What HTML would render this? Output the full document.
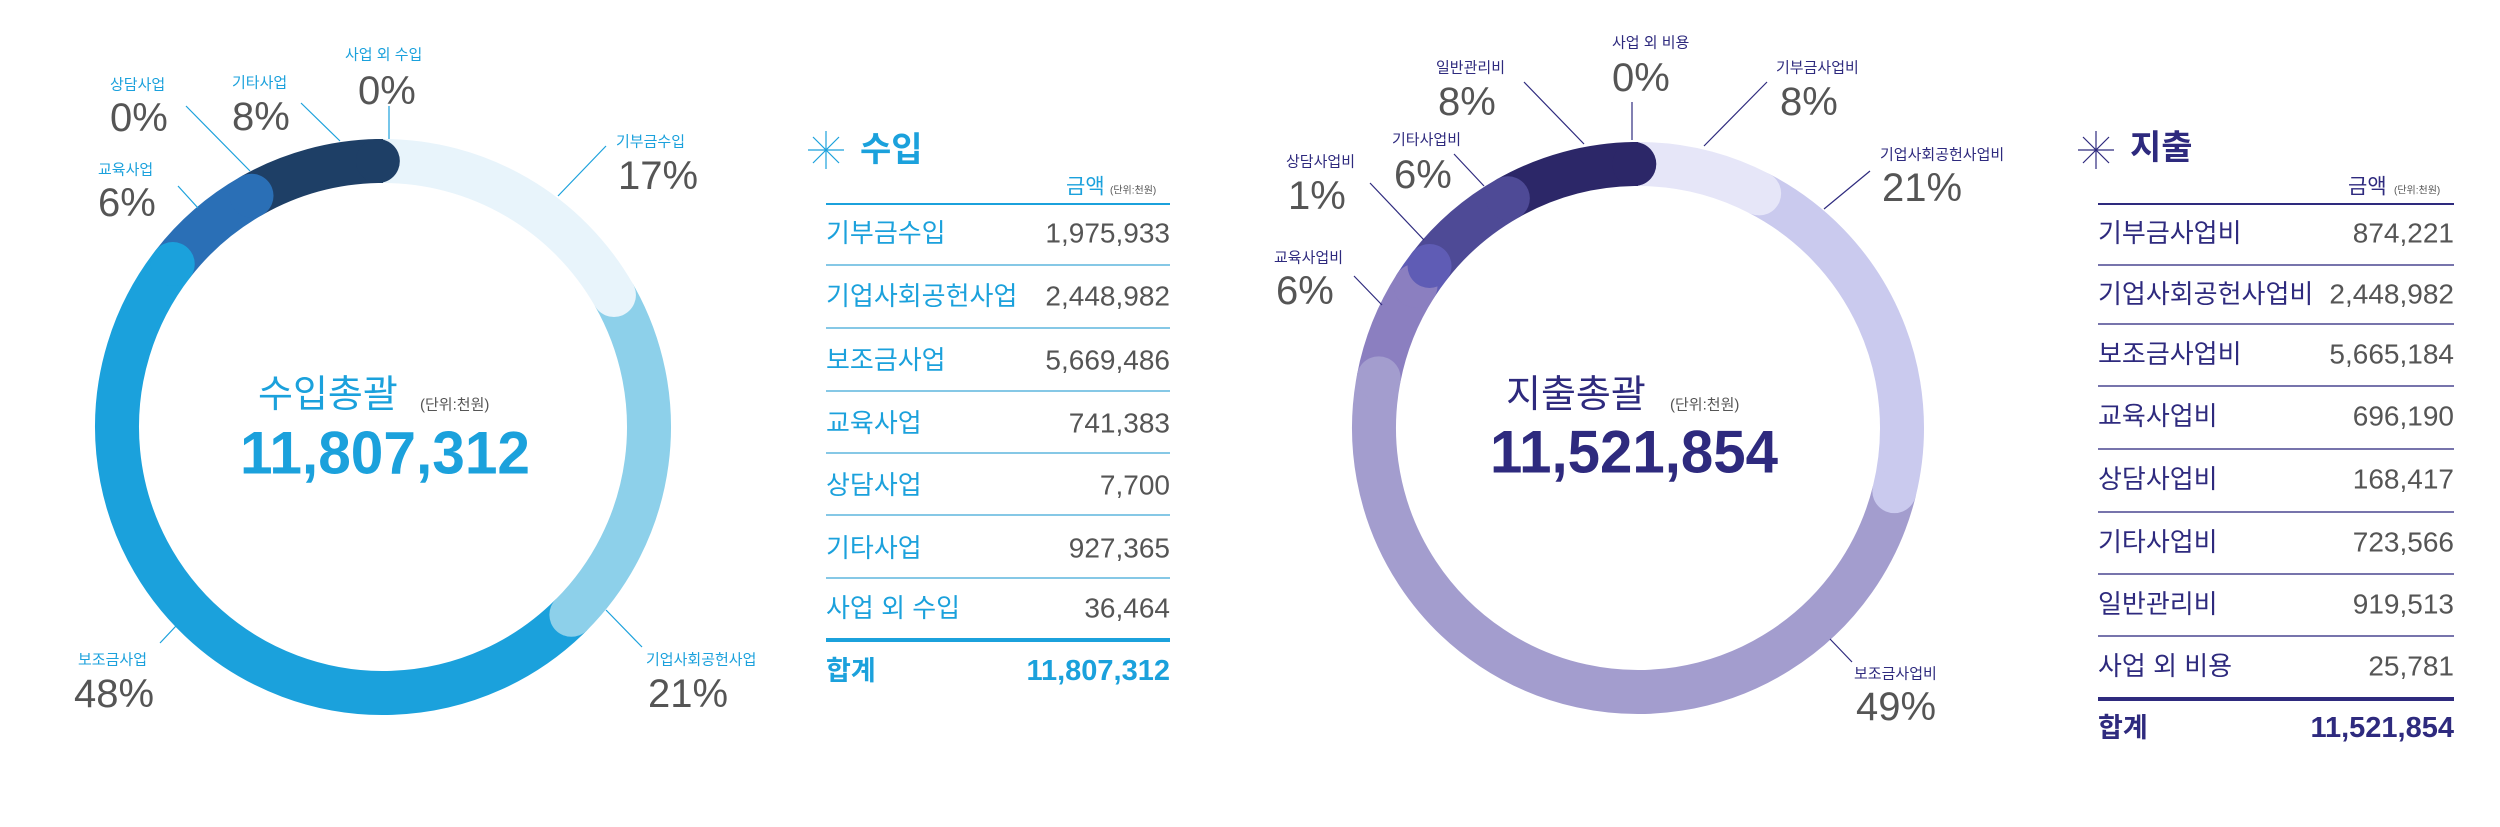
<!DOCTYPE html>
<html><head><meta charset="utf-8"><style>
html,body{margin:0;padding:0;background:#fff;width:2500px;height:827px;overflow:hidden}
svg text{font-family:"Liberation Sans","Noto Sans CJK KR",sans-serif}
</style></head><body>
<svg id="s" width="2500" height="827" viewBox="0 0 2500 827" xmlns="http://www.w3.org/2000/svg">
<g id="rings"></g>
<!-- LEFT labels -->
<g fill="#1ba1dc" font-size="15" dominant-baseline="central">
<text x="345" y="55">사업 외 수입</text>
<text x="110" y="85">상담사업</text>
<text x="232" y="83">기타사업</text>
<text x="98" y="170">교육사업</text>
<text x="616" y="142">기부금수입</text>
<text x="78" y="660">보조금사업</text>
<text x="646" y="660">기업사회공헌사업</text>
</g>
<g fill="#555" font-size="40" dominant-baseline="central">
<text x="358" y="91">0%</text>
<text x="110" y="118">0%</text>
<text x="232" y="117">8%</text>
<text x="98" y="203">6%</text>
<text x="618" y="176">17%</text>
<text x="74" y="694">48%</text>
<text x="648" y="694">21%</text>
</g>
<g stroke="#1ba1dc" stroke-width="1.2" fill="none">
<line x1="389" y1="106" x2="389" y2="139"/>
<line x1="186" y1="106" x2="250" y2="171"/>
<line x1="301" y1="103" x2="340" y2="141"/>
<line x1="178" y1="186" x2="198" y2="208"/>
<line x1="606" y1="146" x2="558" y2="196"/>
<line x1="176" y1="626" x2="160" y2="643"/>
<line x1="606" y1="610" x2="642" y2="647"/>
</g>
<text x="258" y="395" fill="#1ba1dc" font-size="38" dominant-baseline="central">수입총괄</text>
<text x="420" y="405" fill="#555" font-size="15" dominant-baseline="central">(단위:천원)</text>
<text x="240" y="453" fill="#1ba1dc" font-size="60" font-weight="bold" dominant-baseline="central" textLength="290" lengthAdjust="spacingAndGlyphs">11,807,312</text>

<!-- RIGHT labels -->
<g fill="#2e2a7e" font-size="15" dominant-baseline="central">
<text x="1612" y="43">사업 외 비용</text>
<text x="1436" y="68">일반관리비</text>
<text x="1776" y="68">기부금사업비</text>
<text x="1392" y="140">기타사업비</text>
<text x="1286" y="162">상담사업비</text>
<text x="1274" y="258">교육사업비</text>
<text x="1880" y="155">기업사회공헌사업비</text>
<text x="1854" y="674">보조금사업비</text>
</g>
<g fill="#555" font-size="40" dominant-baseline="central">
<text x="1612" y="78">0%</text>
<text x="1438" y="102">8%</text>
<text x="1780" y="102">8%</text>
<text x="1394" y="175">6%</text>
<text x="1288" y="196">1%</text>
<text x="1276" y="291">6%</text>
<text x="1882" y="188">21%</text>
<text x="1856" y="707">49%</text>
</g>
<g stroke="#2e2a7e" stroke-width="1.2" fill="none">
<line x1="1632" y1="102" x2="1632" y2="140"/>
<line x1="1524" y1="82" x2="1584" y2="144"/>
<line x1="1767" y1="82" x2="1704" y2="146"/>
<line x1="1454" y1="154" x2="1484" y2="186"/>
<line x1="1370" y1="183" x2="1424" y2="240"/>
<line x1="1354" y1="276" x2="1382" y2="305"/>
<line x1="1870" y1="171" x2="1824" y2="209"/>
<line x1="1830" y1="639" x2="1852" y2="662"/>
</g>
<text x="1506" y="395" fill="#2e2a7e" font-size="38" dominant-baseline="central">지출총괄</text>
<text x="1670" y="405" fill="#555" font-size="15" dominant-baseline="central">(단위:천원)</text>
<text x="1490" y="452" fill="#2e2a7e" font-size="60" font-weight="bold" dominant-baseline="central" textLength="288" lengthAdjust="spacingAndGlyphs">11,521,854</text>

<!-- LEFT table -->
<g stroke="#1ba1dc" stroke-width="1.2">
<line x1="808" y1="150" x2="844" y2="150"/><line x1="826" y1="131" x2="826" y2="169"/>
<line x1="813" y1="137" x2="839" y2="163"/><line x1="839" y1="137" x2="813" y2="163"/>
</g>
<text x="860" y="150" fill="#1ba1dc" font-size="34" font-weight="bold" dominant-baseline="central">수입</text>
<text x="1066" y="187" fill="#1ba1dc" font-size="21" dominant-baseline="central">금액</text>
<text x="1110" y="191" fill="#555" font-size="10" dominant-baseline="central">(단위:천원)</text>
<g id="lt"></g>
<!-- RIGHT table -->
<g stroke="#2e2a7e" stroke-width="1.2">
<line x1="2078" y1="150" x2="2114" y2="150"/><line x1="2096" y1="131" x2="2096" y2="169"/>
<line x1="2083" y1="137" x2="2109" y2="163"/><line x1="2109" y1="137" x2="2083" y2="163"/>
</g>
<text x="2130" y="148" fill="#2e2a7e" font-size="34" font-weight="bold" dominant-baseline="central">지출</text>
<text x="2348" y="187" fill="#2e2a7e" font-size="21" dominant-baseline="central">금액</text>
<text x="2394" y="191" fill="#555" font-size="10" dominant-baseline="central">(단위:천원)</text>
<g id="rt"></g>
</svg>
<script>
var NS="http://www.w3.org/2000/svg";
function el(p,t,a,txt){var e=document.createElementNS(NS,t);for(var k in a)e.setAttribute(k,a[k]);if(txt!=null)e.textContent=txt;p.appendChild(e);return e;}
function pt(cx,cy,r,f){var a=f*2*Math.PI;return [cx+r*Math.sin(a),cy-r*Math.cos(a)];}
function ring(cx,cy,r,sw,vals,cols){
 var g=document.getElementById('rings'),tot=vals.reduce(function(a,b){return a+b},0),c=0,ends=[];
 for(var i=0;i<vals.length;i++){var f0=c/tot,f1=(c+vals[i])/tot;c+=vals[i];
  var p0=pt(cx,cy,r,f0),p1=pt(cx,cy,r,f1),lg=(f1-f0)>0.5?1:0;
  el(g,'path',{d:'M'+p0[0]+' '+p0[1]+' A'+r+' '+r+' 0 '+lg+' 1 '+p1[0]+' '+p1[1],fill:'none',stroke:cols[i],'stroke-width':sw});
  ends.push([p1,cols[i],f1-f0]);}
 ends.forEach(function(e){if(e[2]>0.01)el(g,'circle',{cx:e[0][0],cy:e[0][1],r:sw/2,fill:e[1]});});
}
ring(383,427,266,44,[1975933,2448982,5669486,741383,7700,927365,36464],['#e8f4fb','#8dd0ea','#1ba1dc','#2a6fb6','#2a6fb6','#1e3f66','#1e3f66']);
ring(1638,428,264,44,[874221,2448982,5665184,696190,168417,723566,919513,25781],['#e6e6f8','#cacaee','#a39dce','#8b7fc0','#5f5cb5','#4e4a96','#2c2768','#2c2768']);
function table(id,x0,x1,top,rows,centers,lines,thick,sumY,col,lcol,sum){
 var g=document.getElementById(id);
 el(g,'line',{x1:x0,x2:x1,y1:top,y2:top,stroke:col,'stroke-width':2});
 lines.forEach(function(y){el(g,'line',{x1:x0,x2:x1,y1:y,y2:y,stroke:lcol,'stroke-width':1.5});});
 el(g,'line',{x1:x0,x2:x1,y1:thick,y2:thick,stroke:col,'stroke-width':4});
 rows.forEach(function(r,i){
  el(g,'text',{x:x0,y:centers[i],fill:col,'font-size':26,'dominant-baseline':'central'},r[0]);
  el(g,'text',{x:x1,y:centers[i],fill:'#555','font-size':28,'text-anchor':'end','dominant-baseline':'central'},r[1]);});
 el(g,'text',{x:x0,y:sumY,fill:col,'font-size':27,'font-weight':'bold','dominant-baseline':'central'},'합계');
 el(g,'text',{x:x1,y:sumY,fill:col,'font-size':29,'font-weight':'bold','text-anchor':'end','dominant-baseline':'central'},sum);
}
table('lt',826,1170,204,[['기부금수입','1,975,933'],['기업사회공헌사업','2,448,982'],['보조금사업','5,669,486'],['교육사업','741,383'],['상담사업','7,700'],['기타사업','927,365'],['사업 외 수입','36,464']],
 [233,296,360,423,485,548,608],[265,328,391,453,515,578],640,671,'#1ba1dc','#5fb6de','11,807,312');
table('rt',2098,2454,204,[['기부금사업비','874,221'],['기업사회공헌사업비','2,448,982'],['보조금사업비','5,665,184'],['교육사업비','696,190'],['상담사업비','168,417'],['기타사업비','723,566'],['일반관리비','919,513'],['사업 외 비용','25,781']],
 [233,294,354,416,479,542,604,666],[265,324,386,449,512,574,636],699,728,'#2e2a7e','#4a4690','11,521,854');
</script>
</body></html>
